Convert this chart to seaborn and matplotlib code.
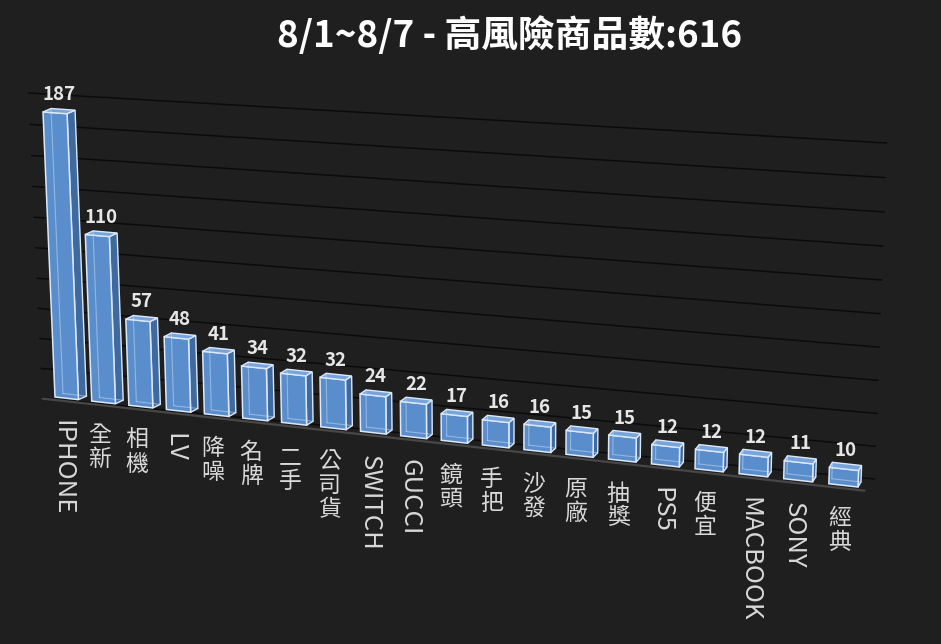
import numpy as np
import pandas as pd
import matplotlib
matplotlib.use("Agg")
from matplotlib import pyplot as plt
import matplotlib.transforms as mtransforms
from matplotlib.patches import Polygon
import seaborn as sns

# data
categories = ["IPHONE", "全新", "相機", "LV", "降噪", "名牌", "二手", "公司貨", "SWITCH", "GUCCI",
              "鏡頭", "手把", "沙發", "原廠", "抽獎", "PS5", "便宜", "MACBOOK", "SONY", "經典"]
counts = [187, 110, 57, 48, 41, 34, 32, 32, 24, 22, 17, 16, 16, 15, 15, 12, 12, 12, 11, 10]
grid_values = list(range(0, 201, 20))
title_text = "8/1~8/7 - 高風險商品數:616"

W, H = 941, 644
BG = "#1f1f1f"
FRONT = "#5a8dcc"
SIDE = "#3e6a9f"
TOP = "#78a4dc"
EDGE = "#dce8f8"


class Perspective(mtransforms.Transform):
    # maps axes fraction -> display pixels with a 3x3 homography (fake 3d look)
    input_dims = 2
    output_dims = 2
    is_separable = False
    has_inverse = False

    def __init__(self, m):
        super().__init__()
        self.m = m

    def transform_non_affine(self, values):
        v = np.asarray(values, dtype=float)
        shp = v.shape
        v = v.reshape(-1, 2)
        p = np.column_stack([v, np.ones(len(v))]) @ self.m.T
        return (p[:, :2] / p[:, 2:3]).reshape(shp)


def fit_homography(src, dst_img):
    A, b = [], []
    for (x, y), (X, Yi) in zip(src, dst_img):
        Y = H - Yi
        A.append([x, y, 1, 0, 0, 0, -X * x, -X * y]); b.append(X)
        A.append([0, 0, 0, x, y, 1, -Y * x, -Y * y]); b.append(Y)
    h = np.linalg.solve(np.array(A), np.array(b))
    return np.append(h, 1).reshape(3, 3)


def frac(x, v):
    return ((x + 0.5) / 20, v / 200)


sns.set_theme(style="dark")
plt.rcParams["font.family"] = ["Noto Sans CJK TC", "DejaVu Sans"]

fig = plt.figure(figsize=(W / 100, H / 100), dpi=100, facecolor=BG)
ax = fig.add_axes([0, 0, 1, 1])
ax.set_facecolor(BG)

df = pd.DataFrame({"keyword": categories, "count": counts})
sns.barplot(data=df, x="keyword", y="count", color=FRONT, saturation=1,
            width=0.64, ax=ax, zorder=4)
ax.set_xlim(-0.5, 19.5)
ax.set_ylim(0, 200)
ax.set_axis_off()

# projection of the bar plane and of the back wall
bar_h = fit_homography([frac(-0.32, 0), frac(-0.32, 187), frac(19.32, 0), frac(19.32, 200)],
                       [(55, 397), (43, 112), (858, 487), (870, 147)])
wall_h = fit_homography([(0, 0), (0, 1), (1, 1), (1, 0)],
                        [(42, 398), (28, 93), (887, 143), (875, 479)])
base = ax.transData + ax.transAxes.inverted()
bar_tr = base + Perspective(bar_h)
wall_tr = base + Perspective(wall_h)
ident = mtransforms.IdentityTransform()

for v in grid_values:
    ax.plot([-0.5, 19.5], [v, v], color="#0b0b0b", lw=1.1, transform=wall_tr,
            zorder=1, solid_capstyle="butt")
ax.plot([-0.66, 19.46], [0, 0], color="#474747", lw=1.6, zorder=2,
        transform=bar_tr + mtransforms.Affine2D().translate(0, -3))

for i, p in enumerate(ax.patches):
    p.set_transform(bar_tr)
    p.set_edgecolor(EDGE)
    p.set_linewidth(1.1)
    p.set_clip_on(False)
    x0, w, hgt = p.get_x(), p.get_width(), p.get_height()
    bl, br, tr, tl = bar_tr.transform([(x0, 0), (x0 + w, 0), (x0 + w, hgt), (x0, hgt)])
    t = i / 19
    d = np.array([8 - 5 * t, 3.5 + 1.5 * t])
    side = Polygon([br, br + d, tr + d, tr], closed=True, transform=ident,
                   facecolor=SIDE, edgecolor=EDGE, lw=1.0, zorder=3)
    top = Polygon([tl, tr, tr + d, tl + d], closed=True, transform=ident,
                  facecolor=TOP, edgecolor=EDGE, lw=1.0, zorder=5)
    ax.add_patch(side)
    ax.add_patch(top)
    # back edges seen through the box
    ax.plot([bl[0] + d[0], tl[0] + d[0]], [bl[1] + d[1], tl[1] + d[1]], color=EDGE,
            lw=0.8, alpha=0.45, transform=ident, zorder=6)
    ax.plot([bl[0] + d[0], br[0] + d[0]], [bl[1] + d[1], br[1] + d[1]], color=EDGE,
            lw=0.8, alpha=0.45, transform=ident, zorder=6)

    ax.text(i, counts[i], str(counts[i]),
            transform=bar_tr + mtransforms.Affine2D().translate(d[0] / 2, 9),
            ha="center", va="bottom", fontsize=13.5, fontweight="bold",
            color="#e6e6e6", zorder=7)

    lab = categories[i]
    if lab.isascii():
        ax.text(i, 0, lab, transform=bar_tr + mtransforms.Affine2D().translate(-4, -22),
                ha="center", va="top", rotation=-90, fontsize=18.5,
                color="#d9d9d9")
    else:
        ax.text(i, 0, "\n".join(lab), transform=bar_tr + mtransforms.Affine2D().translate(-4, -22),
                ha="center", va="top", fontsize=16.5,
                linespacing=1.05, color="#d9d9d9")

ax.set_xlim(-0.5, 19.5)
ax.set_ylim(0, 200)

fig.text(510 / W, 1 - 36 / H, title_text, ha="center", va="center",
         fontsize=26.5, fontweight="bold", color="white")

fig.savefig("out.png", dpi=100, facecolor=BG)
